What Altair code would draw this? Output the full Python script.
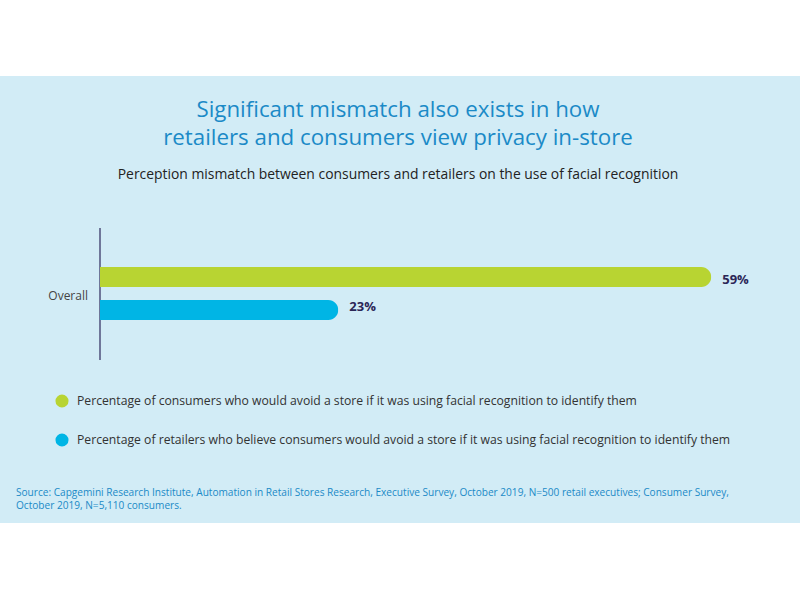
import altair as alt
import pandas as pd

categories = ["Overall"]
series = [
    "Percentage of consumers who would avoid a store if it was using facial recognition to identify them",
    "Percentage of retailers who believe consumers would avoid a store if it was using facial recognition to identify them",
]
values = [59, 23]
value_labels = ["59%", "23%"]
colors = ["#B8D432", "#00B5E5"]
title_lines = ["Significant mismatch also exists in how", "retailers and consumers view privacy in-store"]
subtitle = "Perception mismatch between consumers and retailers on the use of facial recognition"
source_lines = [
    "Source: Capgemini Research Institute, Automation in Retail Stores Research, Executive Survey, October 2019, N=500 retail executives; Consumer Survey,",
    "October 2019, N=5,110 consumers.",
]

FONT = "Open Sans"

df = pd.DataFrame({"category": categories * len(series), "series": series, "value": values, "label": value_labels})

one = pd.DataFrame({"a": [0]})

panel = alt.Chart(one).mark_rect(color="#D2ECF6").encode(
    x=alt.value(0), x2=alt.value(800), y=alt.value(76), y2=alt.value(523)
)

xscale = alt.Scale(domain=[0, 100], range=[100, 1136])
yscale = alt.Scale(domain=series, range=[267, 320], paddingInner=0.394, paddingOuter=0)

bars = alt.Chart(df).mark_bar(cornerRadiusEnd=10).encode(
    x=alt.X("value:Q", scale=xscale, axis=None),
    y=alt.Y("series:N", scale=yscale, axis=None),
    color=alt.Color(
        "series:N",
        scale=alt.Scale(domain=series, range=colors),
        legend=alt.Legend(
            title=None,
            orient="none",
            legendX=55,
            legendY=394,
            symbolType="circle",
            symbolSize=170,
            symbolStrokeWidth=0,
            labelFont=FONT,
            labelFontSize=12.2,
            labelColor="#333333",
            labelLimit=0,
            rowPadding=25,
            labelOffset=8,
        ),
    ),
)

labels = alt.Chart(df).mark_text(
    align="left", dx=11, font=FONT, fontSize=13, fontWeight="bold", color="#2B2656"
).encode(
    x=alt.X("value:Q", scale=xscale, axis=None),
    y=alt.Y("series:N", scale=yscale, bandPosition=0.5, axis=None),
    text="label:N",
)

axis_line = alt.Chart(one).mark_rule(color="#3A3868", strokeWidth=1.3).encode(
    x=alt.value(100), y=alt.value(228), y2=alt.value(360)
)

cat_label = alt.Chart(pd.DataFrame({"category": categories})).mark_text(
    align="right", baseline="middle", font=FONT, fontSize=12, color="#444444"
).encode(x=alt.value(88), y=alt.value(296), text="category:N")

title_df = pd.DataFrame({"line": title_lines, "i": [0, 1]})
title = alt.Chart(title_df).mark_text(
    align="center", baseline="middle", font=FONT, fontSize=22.3, color="#1B8AC7"
).encode(
    x=alt.value(398),
    y=alt.Y("i:Q", scale=alt.Scale(domain=[0, 1], range=[110, 138]), axis=None),
    text="line:N",
)

sub = alt.Chart(pd.DataFrame({"t": [subtitle]})).mark_text(
    align="center", baseline="middle", font=FONT, fontSize=13.9, color="#222222"
).encode(x=alt.value(398), y=alt.value(175), text="t:N")

src_df = pd.DataFrame({"line": source_lines, "i": [0, 1]})
src = alt.Chart(src_df).mark_text(
    align="left", baseline="middle", font=FONT, fontSize=10.1, color="#1B8AC7"
).encode(
    x=alt.value(16),
    y=alt.Y("i:Q", scale=alt.Scale(domain=[0, 1], range=[492.5, 505.5]), axis=None),
    text="line:N",
)

chart = (
    alt.layer(panel, axis_line, bars, labels, cat_label, title, sub, src)
    .resolve_scale(y="independent")
    .properties(width=800, height=600, autosize=alt.AutoSizeParams(type="none"), padding=0, background="white")
    .configure_view(stroke=None)
)

chart.save("out.html", embed_options={"renderer": "svg", "actions": False})
